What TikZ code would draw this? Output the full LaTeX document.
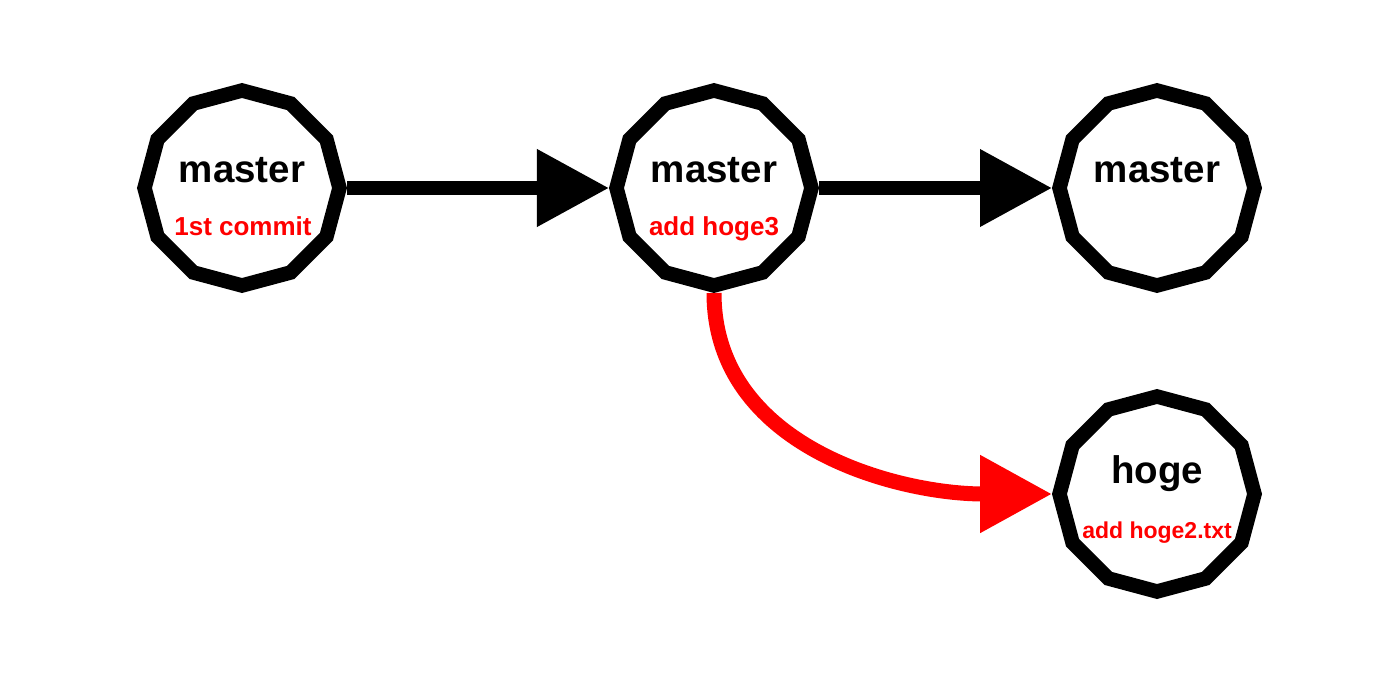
\documentclass[tikz,border=0pt]{standalone}
\usepackage{fontspec}
\setmainfont{Liberation Sans}
\usetikzlibrary{shapes.geometric,arrows.meta}

\begin{document}
\begin{tikzpicture}[line join=miter,>={Triangle[length=72bp,width=74bp]},x=1bp,y=-1bp,
		commit/.style={draw,line width=14.5bp,regular polygon,regular polygon sides=12,
			shape border rotate=15,minimum size=195bp,inner sep=0pt},
		branch/.style={anchor=base,font=\fontsize{38.5bp}{40bp}\selectfont\bfseries},
		msg/.style={anchor=base,text=red,font=\fontsize{26bp}{28bp}\selectfont\bfseries}]
	% Khung hình
	\useasboundingbox (0,0) rectangle (1393,673);
	% Các commit
	\node[commit] (c1) at (242,188) {};
	\node[commit] (c2) at (714,188) {};
	\node[commit] (c3) at (1157,188) {};
	\node[commit] (c4) at (1157,494) {};
	% Tên nhánh
	\node[branch] (b1) at (242,182) {master};
	\node[branch] (b2) at (714,182) {master};
	\node[branch] (b3) at (1157,182) {master};
	\node[branch] (b4) at (1157,483) {hoge};
	% Thông điệp commit
	\node[msg] (m1) at (243,235) {1st commit};
	\node[msg] (m2) at (714,235) {add hoge3};
	\node[msg, font=\fontsize{23bp}{25bp}\selectfont\bfseries] (m4) at (1157,538) {add hoge2.txt};
	% Các mũi tên
	\draw[->,line width=14bp] (c1) -- (c2);
	\draw[->,line width=14bp] (c2) -- (c3);
	\draw[->,red,line width=15bp] (c2.south) to[out=-90,in=180] (c4.west);
\end{tikzpicture}
\end{document}
